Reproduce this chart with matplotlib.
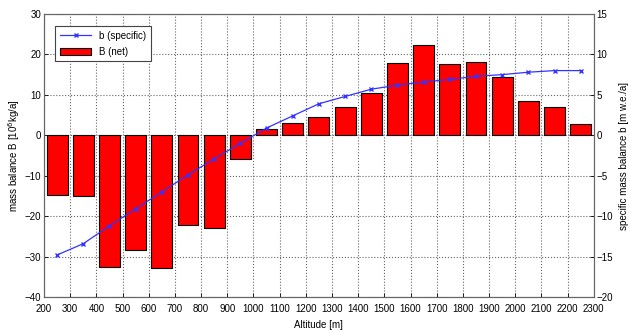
import numpy as np
import matplotlib
matplotlib.use("Agg")
import matplotlib.pyplot as plt

plt.rcParams['font.family'] = ['Liberation Sans', 'DejaVu Sans']
plt.rcParams['font.size'] = 7

# altitude band centres [m]
altitude = [250, 350, 450, 550, 650, 750, 850, 950, 1050, 1150, 1250,
            1350, 1450, 1550, 1650, 1750, 1850, 1950, 2050, 2150, 2250]

# net mass balance B per band
net_B = [-14.8, -15.1, -32.5, -28.3, -32.8, -22.3, -23.0, -5.8, 1.5, 3.1, 4.6,
         6.9, 10.5, 18.0, 22.4, 17.7, 18.2, 14.3, 8.6, 6.9, 2.8]

# specific mass balance b per band
spec_b = [-14.8, -13.4, -11.2, -9.1, -7.0, -4.9, -2.9, -1.0, 0.9, 2.4, 3.9,
          4.8, 5.7, 6.2, 6.6, 6.9, 7.3, 7.5, 7.8, 8.0, 8.0]

xticks = list(range(200, 2301, 100))

fig = plt.figure(figsize=(6.29, 3.33), dpi=100)
ax = fig.add_axes([0.070, 0.108, 0.874, 0.850])
ax2 = ax.twinx()

bars = ax.bar(altitude, net_B, width=80, color='#ff0000', edgecolor='black',
              linewidth=0.8, label='B (net)', zorder=2)
line, = ax2.plot(altitude, spec_b, color='#3333ff', marker='x', markersize=3,
                 linewidth=0.9, label='b (specific)', zorder=3)

ax.set_xlim(200, 2300)
ax.set_ylim(-40, 30)
ax2.set_ylim(-20, 15)
ax.set_xticks(xticks)
ax.set_yticks(range(-40, 31, 10))
ax2.set_yticks(range(-20, 16, 5))

ax.grid(True, linestyle=':', color='#666666', linewidth=0.8, zorder=0)
ax.set_axisbelow(True)

for a in (ax, ax2):
    a.tick_params(direction='in', length=3, width=0.6, labelsize=7, pad=2)
    for s in a.spines.values():
        s.set_color('#666666')
        s.set_linewidth(0.8)
ax.tick_params(axis='x', pad=5)

ax.set_xlabel('Altitude [m]', fontsize=7, labelpad=4)
ax.set_ylabel('mass balance B [10$^6$kg/a]', fontsize=7, labelpad=2)
ax2.set_ylabel('specific mass balance b [m w.e./a]', fontsize=7, labelpad=4)

# bring the line above the bars
ax2.set_zorder(ax.get_zorder() + 1)
ax2.patch.set_visible(False)

leg = ax2.legend([line, bars], ['b (specific)', 'B (net)'], loc='upper left',
                 bbox_to_anchor=(0.012, 0.975), fancybox=False, framealpha=1,
                 edgecolor='#444444', fontsize=7, handlelength=3.2,
                 borderpad=0.5, labelspacing=0.6)
leg.get_frame().set_linewidth(0.8)

fig.savefig('out.png', dpi=100)
